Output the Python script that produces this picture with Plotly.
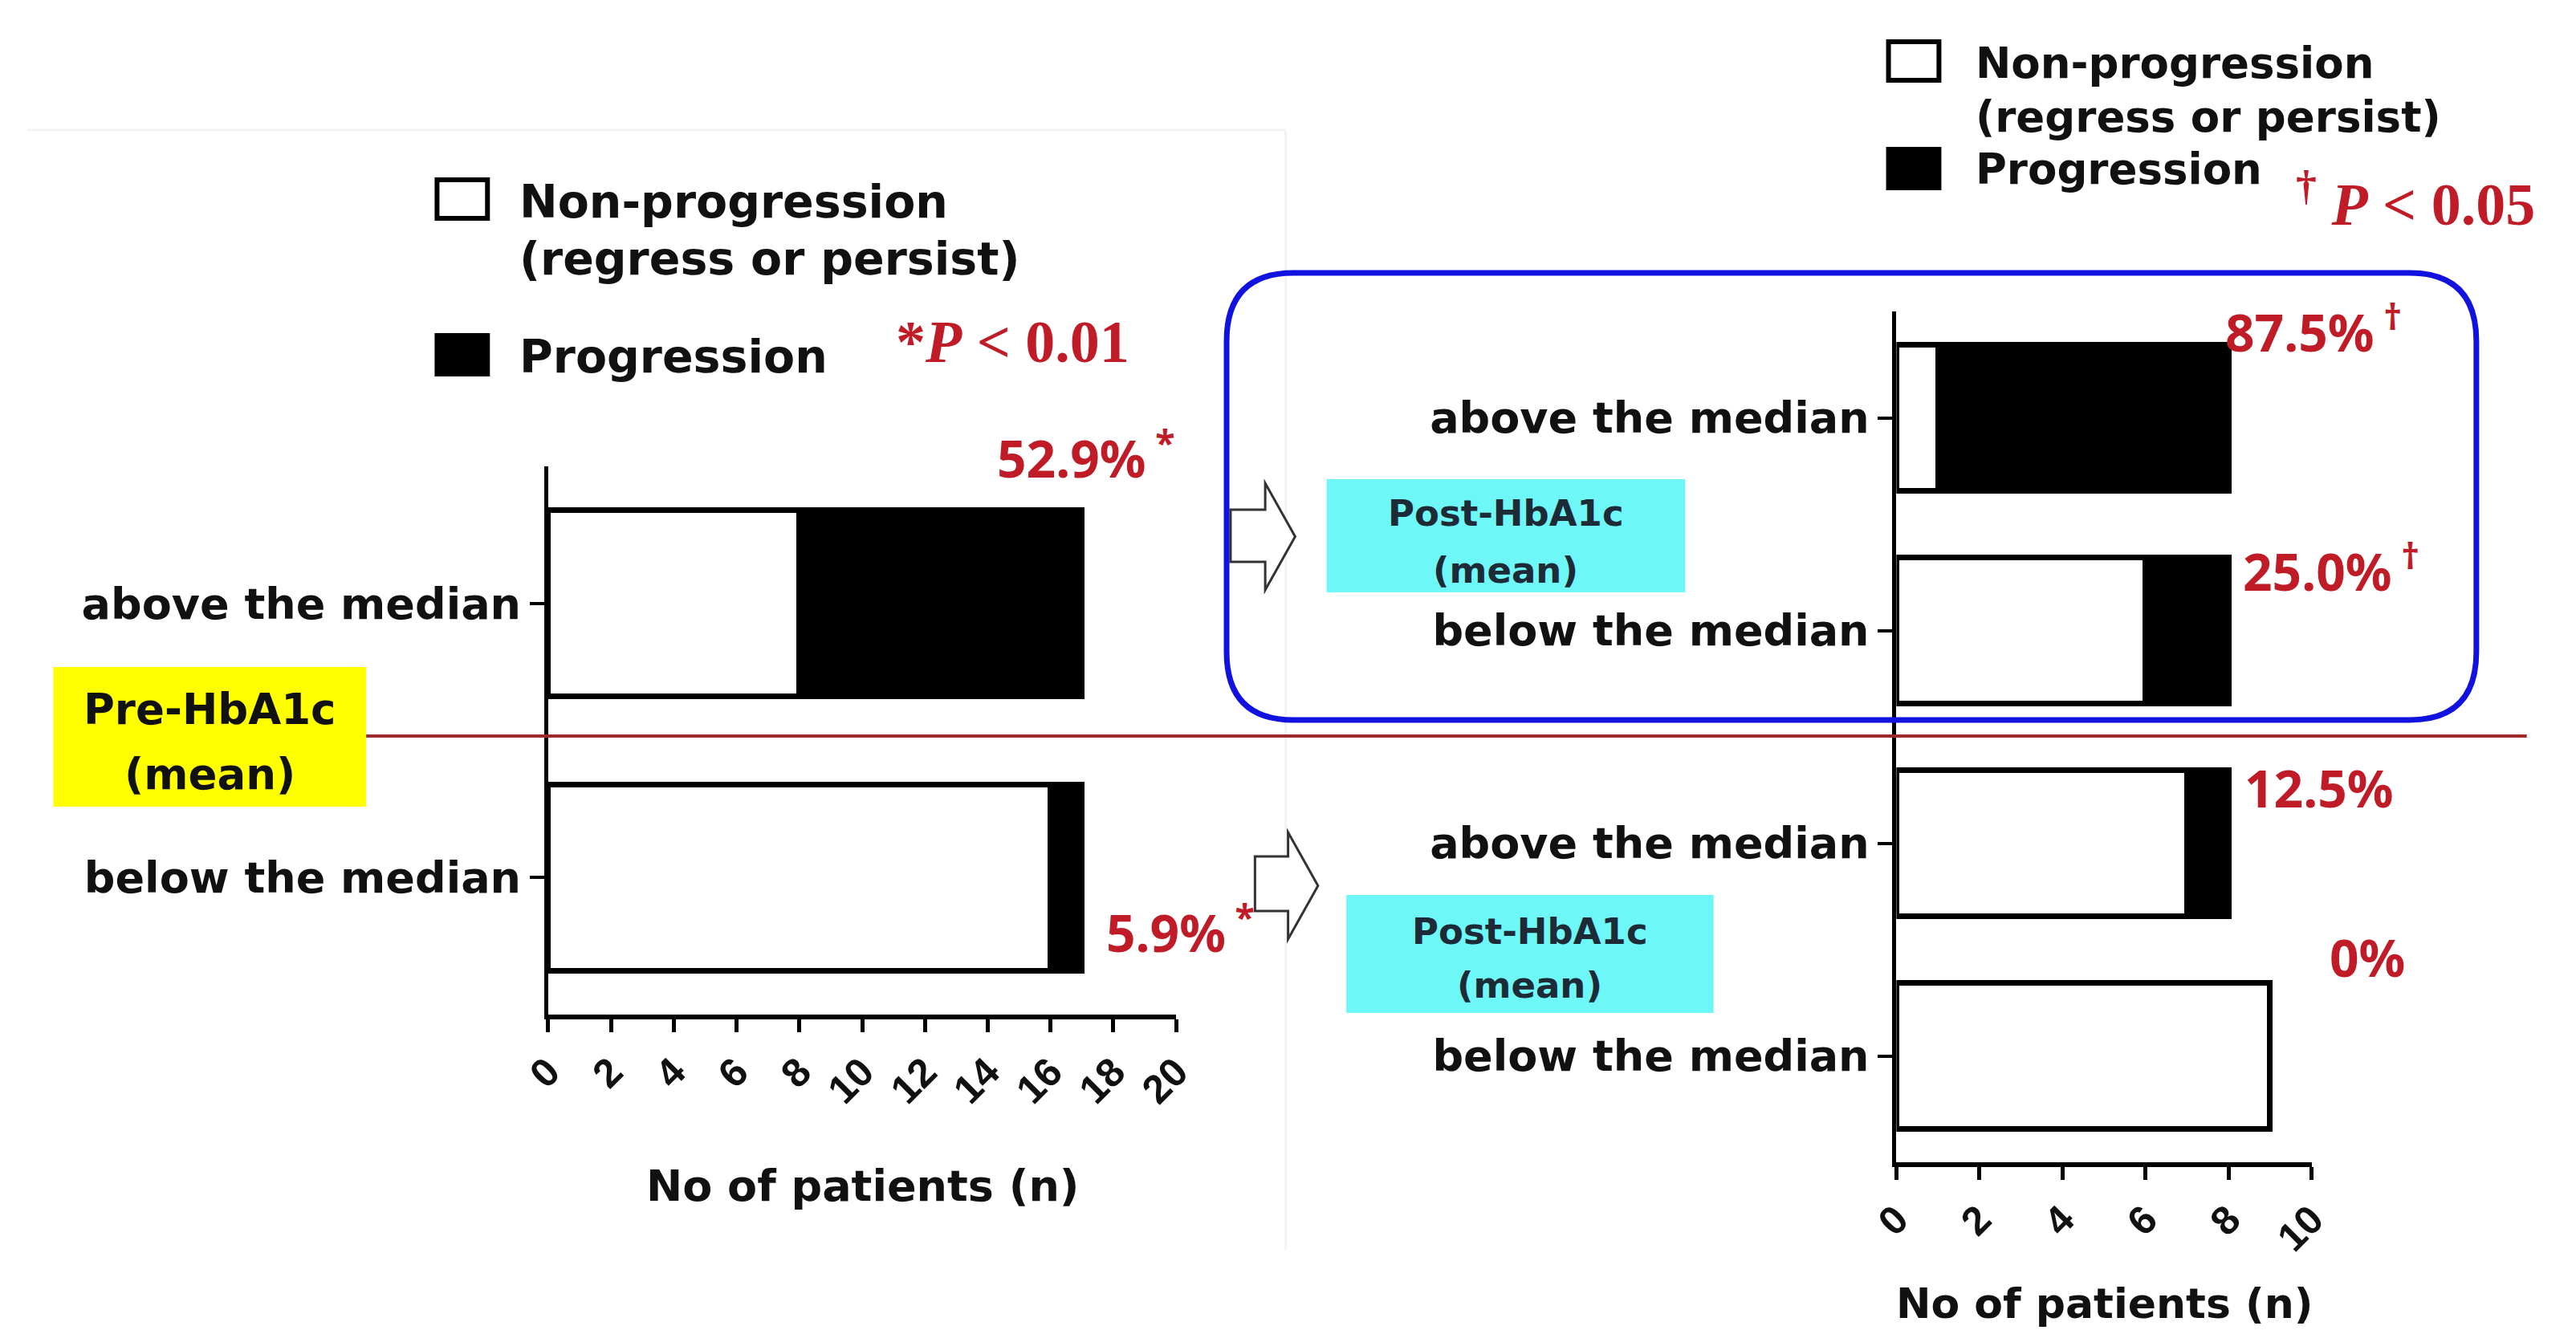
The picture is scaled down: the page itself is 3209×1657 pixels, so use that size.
import plotly.graph_objects as go

# ---- data -------------------------------------------------------------
pre_groups = ["above the median", "below the median"]
pre_nonprog = [8, 16]
pre_prog = [9, 1]
pre_marks = ["*", "*"]

post_groups = ["above the median", "below the median", "above the median", "below the median"]
post_nonprog = [1, 6, 7, 9]
post_prog = [7, 2, 1, 0]
post_marks = ["†", "†", "", ""]

pre_pval = "*<i>P</i> < 0.01"
post_pval = "<sup>†</sup> <i>P</i> < 0.05"
legend_names = ["Non-progression", "(regress or persist)", "Progression"]
axis_title = "No of patients (n)"

# ---- page geometry (pixels) -------------------------------------------
W, H = 3209, 1657


def fx(p):
    return p / W


def fy(p):
    return 1 - p / H


LABEL_FONT = "DejaVu Sans"
TICK_FONT = "Liberation Sans"
PCT_FONT = "Noto Sans"
SERIF = "Liberation Serif"
RED = "#c01c28"
INK = "#111111"


def pct_text(n, p, mark):
    v = 100.0 * p / (n + p)
    s = f"{v:.1f}%" if v > 0 else "0%"
    if mark:
        s += f"<sup> {mark}</sup>"
    return s


fig = go.Figure()

# stacked horizontal bars, pre-HbA1c panel
fig.add_trace(go.Bar(orientation="h", x=pre_nonprog, y=list(range(len(pre_groups))),
                     xaxis="x", yaxis="y", width=0.68,
                     marker=dict(color="white", line=dict(color="black", width=7)),
                     showlegend=False, hoverinfo="skip"))
fig.add_trace(go.Bar(orientation="h", x=pre_prog, y=list(range(len(pre_groups))),
                     xaxis="x", yaxis="y", width=0.68,
                     marker=dict(color="black", line=dict(color="black", width=7)),
                     showlegend=False, hoverinfo="skip"))
# stacked horizontal bars, post-HbA1c panel
fig.add_trace(go.Bar(orientation="h", x=post_nonprog, y=list(range(len(post_groups))),
                     xaxis="x2", yaxis="y2", width=0.685,
                     marker=dict(color="white", line=dict(color="black", width=7)),
                     showlegend=False, hoverinfo="skip"))
fig.add_trace(go.Bar(orientation="h", x=post_prog, y=list(range(len(post_groups))),
                     xaxis="x2", yaxis="y2", width=0.685,
                     marker=dict(color="black", line=dict(color="black", width=7)),
                     showlegend=False, hoverinfo="skip"))

tick_font = dict(family=TICK_FONT, size=50, color=INK, weight="bold")
cat_font = dict(family=LABEL_FONT, size=54, color=INK, weight="bold")

xcommon = dict(showline=True, linecolor="black", linewidth=6, ticks="outside",
               ticklen=16, tickwidth=5, tickcolor="black", dtick=2, tickangle=-45,
               tickfont=tick_font, showgrid=False, zeroline=False, fixedrange=True)
ycommon = dict(showline=True, linecolor="black", linewidth=5, ticks="outside",
               ticklen=18, tickwidth=4, tickcolor="black", tickfont=cat_font,
               showgrid=False, zeroline=False, fixedrange=True)

fig.update_layout(
    width=W, height=H, autosize=False,
    margin=dict(l=0, r=0, t=0, b=0, pad=0),
    paper_bgcolor="white", plot_bgcolor="white",
    barmode="stack", bargap=0.32,
    xaxis=dict(domain=[fx(661), fx(1458)], range=[0, 20], anchor="y", **xcommon),
    yaxis=dict(domain=[fy(1264), fy(581)], range=[len(pre_groups) - 0.5, -0.5], anchor="x",
               tickvals=list(range(len(pre_groups))), ticktext=pre_groups, **ycommon),
    xaxis2=dict(domain=[fx(2372), fx(2899)], range=[0, 10], anchor="y2", **xcommon),
    yaxis2=dict(domain=[fy(1448), fy(388)], range=[len(post_groups) - 0.5, -0.5], anchor="x2",
                tickvals=list(range(len(post_groups))), ticktext=post_groups, **ycommon),
)

shapes = []


def line(x0, y0, x1, y1, color, width):
    shapes.append(dict(type="line", xref="paper", yref="paper",
                       x0=fx(x0), y0=fy(y0), x1=fx(x1), y1=fy(y1),
                       line=dict(color=color, width=width)))


def rect(x0, y0, x1, y1, fill, lcolor=None, lwidth=0):
    shapes.append(dict(type="rect", xref="paper", yref="paper",
                       x0=fx(x0), y0=fy(y1), x1=fx(x1), y1=fy(y0),
                       fillcolor=fill,
                       line=dict(color=lcolor or fill, width=lwidth)))


def path(points, close=True):
    d = "M " + " L ".join(f"{fx(x):.5f},{fy(y):.5f}" for x, y in points)
    return d + (" Z" if close else "")


# faint panel frame
line(0, 162, 1597, 162, "#f3f3f3", 3)
line(1597, 162, 1597, 1557, "#f3f3f3", 3)

# divider between the pre-HbA1c groups
line(430, 917, 3172, 917, "#9e2b2b", 4)

# group label boxes
rect(33, 831, 430, 1005, "#ffff00")
rect(1649, 597, 2104, 738, "#6ef7f7")
rect(1674, 1115, 2140, 1262, "#6ef7f7")

# outlined block arrows
for tail, s0, s1, base, h0, h1, tip in [(1527, 635, 700, 1571, 602, 735, 1609),
                                         (1558, 1067, 1135, 1600, 1037, 1170, 1638)]:
    mid = (h0 + h1) / 2
    pts = [(tail, s0), (base, s0), (base, h0), (tip, mid), (base, h1), (base, s1), (tail, s1)]
    shapes.append(dict(type="path", xref="paper", yref="paper", path=path(pts),
                       fillcolor="white", line=dict(color="#333333", width=3)))

# rounded highlight frame around the upper post-HbA1c group
bx0, by0, bx1, by1, r = 1522, 340, 3108, 897, 85
d = (f"M {fx(bx0 + r)},{fy(by0)} L {fx(bx1 - r)},{fy(by0)} "
     f"Q {fx(bx1)},{fy(by0)} {fx(bx1)},{fy(by0 + r)} "
     f"L {fx(bx1)},{fy(by1 - r)} Q {fx(bx1)},{fy(by1)} {fx(bx1 - r)},{fy(by1)} "
     f"L {fx(bx0 + r)},{fy(by1)} Q {fx(bx0)},{fy(by1)} {fx(bx0)},{fy(by1 - r)} "
     f"L {fx(bx0)},{fy(by0 + r)} Q {fx(bx0)},{fy(by0)} {fx(bx0 + r)},{fy(by0)} Z")
shapes.append(dict(type="path", xref="paper", yref="paper", path=d,
                   line=dict(color="#1212e0", width=7)))

# legend swatches
for lx, y_np, y_p in [(520, 224, 418), (2362, 52, 186)]:
    rect(lx, y_np, lx + 64, y_np + 48, "white", "black", 6)
    rect(lx, y_p, lx + 64, y_p + 48, "black", "black", 6)

fig.update_layout(shapes=shapes)

ann = []


def text(x, y, s, size, family=LABEL_FONT, color=INK, xanchor="left", bold=True):
    ann.append(dict(xref="paper", yref="paper", x=fx(x), y=fy(y), text=s,
                    showarrow=False, xanchor=xanchor, yanchor="middle",
                    font=dict(family=family, size=size, color=color,
                              weight="bold" if bold else "normal")))


# legends
text(622, 251, legend_names[0], 57)
text(622, 322, legend_names[1], 57)
text(622, 444, legend_names[2], 57)
text(2470, 78, legend_names[0], 53)
text(2470, 145, legend_names[1], 53)
text(2470, 210, legend_names[2], 53)

# significance notes
text(1100, 426, pre_pval, 74, family=SERIF, color=RED)
text(2877, 249, post_pval, 74, family=SERIF, color=RED)

# group boxes text
text(232, 883, "Pre-HbA1c", 53, xanchor="center")
text(232, 965, "(mean)", 53, xanchor="center")
text(1876, 640, "Post-HbA1c", 45, xanchor="center", color="#1d2b36")
text(1876, 710, "(mean)", 45, xanchor="center", color="#1d2b36")
text(1907, 1160, "Post-HbA1c", 45, xanchor="center", color="#1d2b36")
text(1907, 1227, "(mean)", 45, xanchor="center", color="#1d2b36")

# axis titles
text(1060, 1477, axis_title, 54, xanchor="center")
text(2636, 1624, axis_title, 52, xanchor="center")

# progression percentages next to each bar
pre_shift = [(-108, 185), (28, -65)]
post_shift = [(-6, 111), (16, 78), (18, 69), (72, 123)]
for i, (n, p, m) in enumerate(zip(pre_nonprog, pre_prog, pre_marks)):
    ann.append(dict(xref="x", yref="y", x=n + p, y=i, text=pct_text(n, p, m),
                    showarrow=False, xanchor="left", yanchor="middle",
                    xshift=pre_shift[i][0], yshift=pre_shift[i][1],
                    font=dict(family=PCT_FONT, size=64, color=RED, weight="bold")))
for i, (n, p, m) in enumerate(zip(post_nonprog, post_prog, post_marks)):
    ann.append(dict(xref="x2", yref="y2", x=n + p, y=i, text=pct_text(n, p, m),
                    showarrow=False, xanchor="left", yanchor="middle",
                    xshift=post_shift[i][0], yshift=post_shift[i][1],
                    font=dict(family=PCT_FONT, size=64, color=RED, weight="bold")))

fig.update_layout(annotations=ann)

fig.write_html("out.html")
